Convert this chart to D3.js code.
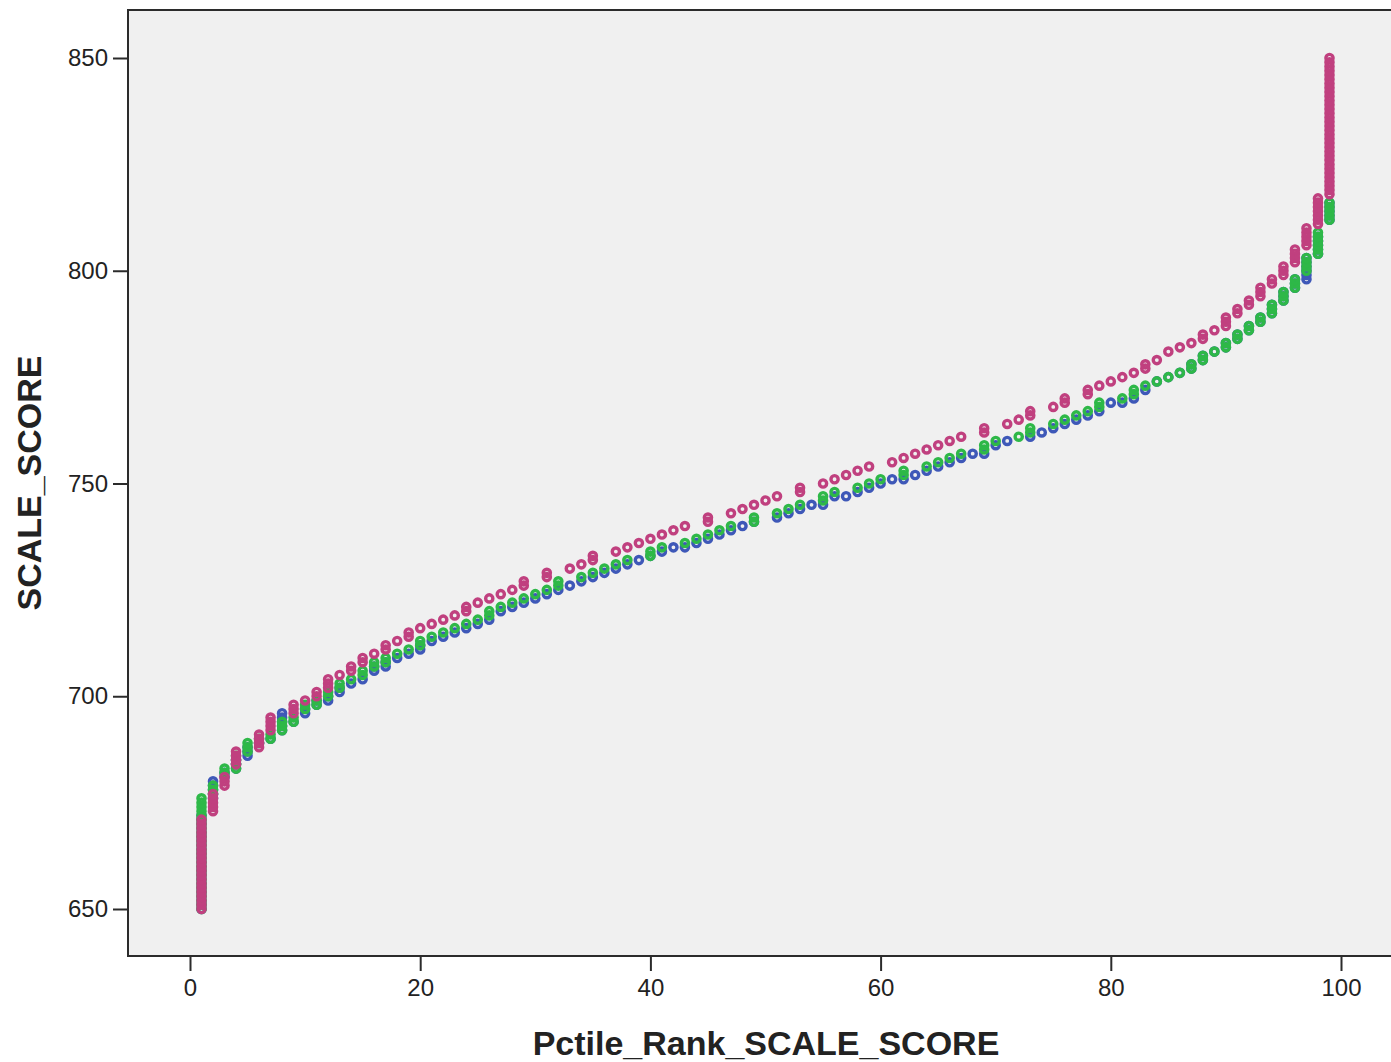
<!DOCTYPE html>
<html>
<head>
<meta charset="utf-8">
<script src="https://cdn.jsdelivr.net/npm/d3@7"></script>
<style>
  body { margin: 0; background: #fff; }
  text { font-family: "Liberation Sans", Arial, sans-serif; }
</style>
</head>
<body>
<script>
// [percentile rank, lowest score, highest score] for each rank column
var blueSeries = [
  [1,650,672],[2,676,680],[3,681,682],[4,683,685],[5,686,688],[6,689,689],[7,690,690],[8,692,696],[9,694,694],[10,696,697],
  [11,698,699],[12,699,700],[13,701,702],[14,703,703],[15,704,704],[16,706,707],[17,707,708],[18,709,709],[19,710,710],[20,711,712],
  [21,713,713],[22,714,714],[23,715,715],[24,716,716],[25,717,717],[26,718,718],[27,720,720],[28,721,721],[29,722,722],[30,723,723],
  [31,724,724],[32,725,725],[33,726,726],[34,727,727],[35,728,728],[36,729,729],[37,730,730],[38,731,731],[39,732,732],[40,733,733],
  [41,734,734],[42,735,735],[43,735,735],[44,736,736],[45,737,737],[46,738,738],[47,739,739],[48,740,740],[49,741,741],
  [51,742,742],[52,743,743],[53,744,744],[54,745,745],[55,745,745],[56,747,747],[57,747,747],[58,748,748],[59,749,749],[60,750,750],
  [61,751,751],[62,751,751],[63,752,752],[64,753,753],[65,754,754],[66,755,755],[67,756,756],[68,757,757],[69,757,757],[70,759,759],
  [71,760,760],[73,761,761],[74,762,762],[75,763,763],[76,764,764],[77,765,765],[78,766,766],[79,767,767],[80,769,769],
  [81,769,769],[82,770,770],[83,772,772],[84,774,774],[85,775,775],[86,776,776],[87,777,778],[88,779,780],[89,781,781],[90,782,783],
  [91,784,785],[92,786,787],[93,788,789],[94,790,792],[95,793,795],[96,796,798],[97,798,803],[98,804,808],[99,812,816]
];
var greenSeries = [
  [1,650,676],[2,677,679],[3,682,683],[4,683,686],[5,687,689],[6,689,690],[7,690,691],[8,692,694],[9,694,695],[10,697,698],
  [11,698,699],[12,700,701],[13,702,703],[14,704,704],[15,705,706],[16,707,708],[17,708,709],[18,710,710],[19,711,711],[20,712,713],
  [21,714,714],[22,715,715],[23,716,716],[24,717,717],[25,718,718],[26,719,720],[27,721,721],[28,722,722],[29,723,723],[30,724,724],
  [31,725,725],[32,726,727],[34,728,728],[35,729,729],[36,730,730],[37,731,731],[38,732,732],[40,733,734],
  [41,735,735],[43,736,736],[44,737,737],[45,738,738],[46,739,739],[47,740,740],[49,741,742],
  [51,743,743],[52,744,744],[53,745,745],[55,746,747],[56,748,748],[58,749,749],[59,750,750],[60,751,751],
  [62,752,753],[64,754,754],[65,755,755],[66,756,756],[67,757,757],[69,758,759],[70,760,760],
  [72,761,761],[73,762,763],[75,764,764],[76,765,765],[77,766,766],[78,767,767],[79,768,769],
  [81,770,770],[82,771,772],[83,773,773],[84,774,774],[85,775,775],[86,776,776],[87,777,778],[88,779,780],[89,781,781],[90,782,783],
  [91,784,785],[92,786,787],[93,788,789],[94,790,792],[95,793,795],[96,796,798],[97,800,803],[98,804,809],[99,812,816]
];
var pinkSeries = [
  [1,650,671],[2,673,677],[3,679,681],[4,684,687],[6,688,691],[7,692,695],[9,696,698],[10,699,699],
  [11,700,701],[12,702,704],[13,705,705],[14,706,707],[15,708,709],[16,710,710],[17,711,712],[18,713,713],[19,714,715],[20,716,716],
  [21,717,717],[22,718,718],[23,719,719],[24,720,721],[25,722,722],[26,723,723],[27,724,724],[28,725,725],[29,726,727],
  [31,728,729],[33,730,730],[34,731,731],[35,732,733],[37,734,734],[38,735,735],[39,736,736],[40,737,737],
  [41,738,738],[42,739,739],[43,740,740],[45,741,742],[47,743,743],[48,744,744],[49,745,745],[50,746,746],
  [51,747,747],[53,748,749],[55,750,750],[56,751,751],[57,752,752],[58,753,753],[59,754,754],
  [61,755,755],[62,756,756],[63,757,757],[64,758,758],[65,759,759],[66,760,760],[67,761,761],[69,762,763],
  [71,764,764],[72,765,765],[73,766,767],[75,768,768],[76,769,770],[78,771,772],[79,773,773],[80,774,774],
  [81,775,775],[82,776,776],[83,777,778],[84,779,779],[85,781,781],[86,782,782],[87,783,783],[88,784,785],[89,786,786],[90,787,789],
  [91,790,791],[92,792,793],[93,794,796],[94,797,798],[95,799,801],[96,802,805],[97,806,810],[98,811,817],[99,818,850]
];
var xTicks = [0, 20, 40, 60, 80, 100];
var yTicks = [650, 700, 750, 800, 850];

var width = 1391, height = 1062;

var svg = d3.select('body').append('svg')
  .attr('width', width).attr('height', height);

var x = d3.scaleLinear().domain([0, 100]).range([190, 1341]);
var y = d3.scaleLinear().domain([650, 850]).range([909, 58]);

// plot background + frame
svg.append('rect')
  .attr('x', 128).attr('y', 10)
  .attr('width', 1300).attr('height', 946)
  .attr('fill', '#f0f0f0')
  .attr('stroke', '#2b2b2b')
  .attr('stroke-width', 2);

// expand each rank column into one point per score
function points(series) {
  var out = [];
  series.forEach(function(d) {
    d3.range(d[1], d[2] + 1).forEach(function(s) { out.push({p: d[0], s: s}); });
  });
  return out;
}

var layers = [
  {data: blueSeries, color: '#3e58b8'},
  {data: greenSeries, color: '#2eb848'},
  {data: pinkSeries, color: '#c0407f'}
];

layers.forEach(function(l) {
  svg.append('g').selectAll('circle')
    .data(points(l.data))
    .enter().append('circle')
      .attr('cx', function(d) { return x(d.p); })
      .attr('cy', function(d) { return y(d.s); })
      .attr('r', 3.6)
      .attr('fill', 'none')
      .attr('stroke', l.color)
      .attr('stroke-width', 3.4);
});

// axes
var yAxis = svg.append('g')
  .attr('transform', 'translate(127,0)')
  .call(d3.axisLeft(y).tickValues(yTicks).tickSize(14).tickPadding(5).tickFormat(d3.format('d')));
var xAxis = svg.append('g')
  .attr('transform', 'translate(0,957)')
  .call(d3.axisBottom(x).tickValues(xTicks).tickSize(14).tickPadding(8).tickFormat(d3.format('d')));

[yAxis, xAxis].forEach(function(a) {
  a.select('.domain').remove();
  a.selectAll('line').attr('stroke', '#2b2b2b').attr('stroke-width', 2);
  a.selectAll('text').attr('fill', '#222').style('font-size', '24px');
});

// axis titles
svg.append('text')
  .attr('transform', 'translate(41,483) rotate(-90)')
  .attr('text-anchor', 'middle')
  .style('font-size', '34px').style('font-weight', 'bold')
  .attr('fill', '#222')
  .text('SCALE_SCORE');

svg.append('text')
  .attr('x', 766).attr('y', 1055)
  .attr('text-anchor', 'middle')
  .style('font-size', '34px').style('font-weight', 'bold')
  .attr('fill', '#222')
  .text('Pctile_Rank_SCALE_SCORE');
</script>
</body>
</html>
